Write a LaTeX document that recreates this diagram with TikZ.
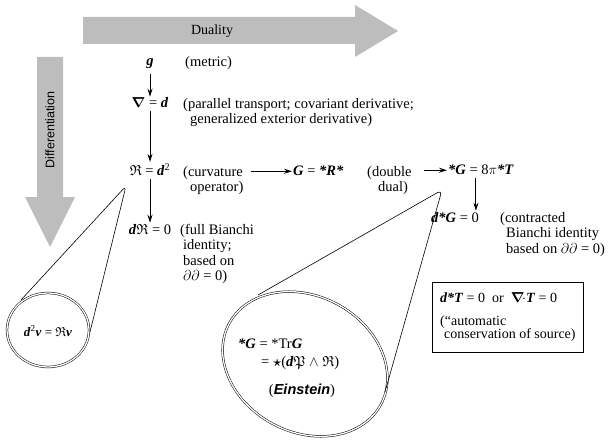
\documentclass[tikz,border=0pt]{standalone}
\usepackage{amsmath,amssymb}
\usepackage{fontspec}
\setmainfont{Liberation Serif}
\setsansfont{Liberation Sans}
\usetikzlibrary{calc,arrows.meta}
\definecolor{dgband}{HTML}{BDBDBD}
\newcommand{\bi}[1]{\textbf{\textit{#1}}}
\tikzset{
  eqn/.style={anchor=base, inner sep=1pt, font=\fontsize{14.5}{15.5}\selectfont},
  note/.style={anchor=north west, inner sep=0pt, align=left,
               font=\fontsize{14.5}{15.5}\selectfont},
  flow/.style={-{Stealth[length=8pt,width=5pt]}, line width=1pt},
  bigarrow/.style={fill=dgband, draw=none},
  loupe/.style={draw, line width=0.5pt, double, double distance=1.3pt},
  cone/.style={line width=0.6pt, rounded corners=5pt}
}

\begin{document}
\begin{tikzpicture}[x=1pt,y=-1pt]
  \useasboundingbox (0,0) rectangle (609,446);
  % the two wide grey arrows
  \fill[bigarrow] (83,17) -- (355,17) -- (355,5) -- (398,31) -- (355,57)
    -- (355,44) -- (83,44) -- cycle;
  \node[font=\fontsize{14}{14}\selectfont] (duality) at (212,31) {Duality};
  \fill[bigarrow] (37,57) -- (63,57) -- (63,197) -- (75,197) -- (50,247)
    -- (25,197) -- (37,197) -- cycle;
  \node[rotate=90, font=\sffamily\fontsize{12.5}{12}\selectfont] (diffn)
    at (50,130) {Differentiation};

  % main column (note tops sit 10pt above the baseline)
  \node[eqn] (g) at (150,66) {\bi{g}};
  \node[note] (metric) at (185,56) {(metric)};
  \node[eqn] (nabla) at (150,108) {$\boldsymbol{\nabla}$ = \bi{d}};
  \node[note] (ptrans) at (183,98)
    {(parallel transport; covariant derivative;\\
     \hspace{7pt}generalized exterior derivative)};
  \node[eqn] (curvop) at (150,176) {$\mathfrak{R}$ = \bi{d}\textsuperscript{2}};
  \node[note] (curvtxt) at (183,166) {(curvature\\\hspace{7pt}operator)};
  \node[eqn] (bianchi) at (150,234) {\bi{d}$\mathfrak{R}$ = 0};
  \node[note] (fbtxt) at (180,224)
    {(full Bianchi\\\hspace{3pt}identity;\\\hspace{3pt}based on\\
     \hspace{3pt}$\partial\partial$ = 0)};

  % along the top row
  \node[eqn, anchor=base west] (dual) at (292,176) {\bi{G} = \bi{*R*}};
  \node[note] (dualtxt) at (367,166) {(double\\\hspace{11pt}dual)};
  \node[eqn, anchor=base west] (einst) at (447,175) {\bi{*G} = 8$\pi$\bi{*T}};
  \node[eqn, anchor=base west] (cbianchi) at (430,222) {\bi{d*G} = 0};
  \node[note] (cbtxt) at (500,212)
    {(contracted\\\hspace{6pt}Bianchi identity\\
     \hspace{6pt}based on $\partial\partial$ = 0)};
  \node[draw, line width=0.8pt, anchor=north west, align=left,
        minimum width=151pt, minimum height=70pt, inner xsep=5pt,
        font=\fontsize{14}{13.5}\selectfont] (conserv) at (432,282)
    {\bi{d*T} = 0\enspace or\enspace $\boldsymbol{\nabla}\!\cdot$\bi{T} = 0\\[9pt]
     (``automatic\\\hspace{4pt}conservation of source)};

  \draw[flow, shorten <=4pt] (g) -- (nabla);
  \draw[flow, shorten <=2pt, shorten >=1pt] (nabla) -- (curvop);
  \draw[flow, shorten <=2pt] (curvop) -- (bianchi);
  \draw[flow] ($(curvtxt.north east |- dual.west)+(7,0)$) -- (dual.west);
  \draw[flow] ($(dualtxt.north east |- einst.west)+(12,0)$) -- (einst.west);
  \draw[flow] ($(einst.south)+(-5,2)$) -- ($(einst.south |- cbianchi.north)+(-5,0)$);

  % magnifiers
  \draw[loupe] (48,330) ellipse [x radius=41, y radius=37];
  \draw[cone] (21,300) -- (126,186) -- (90,332);
  \node[eqn, font=\fontsize{13}{13}\selectfont] (lpeq) at (48,336)
    {\bi{d}\textsuperscript{2}\bi{v} = $\mathfrak{R}$\bi{v}};
  \draw[loupe, rotate around={-28:(305,364)}] (305,364)
    ellipse [x radius=86, y radius=68];
  \draw[cone] (258,295) -- (442,190) -- (385,392);
  \node[note] (einsteq) at (238,339) {\bi{*G} = *Tr\bi{G}};
  \node[note] (wedge) at (261,356)
    {= $\boldsymbol{\star}$(\bi{d}$\mathfrak{P}$ $\wedge$ $\mathfrak{R}$)};
  \node[eqn] (name) at (302,394) {(\textsf{\bfseries\itshape Einstein})};
\end{tikzpicture}
\end{document}
